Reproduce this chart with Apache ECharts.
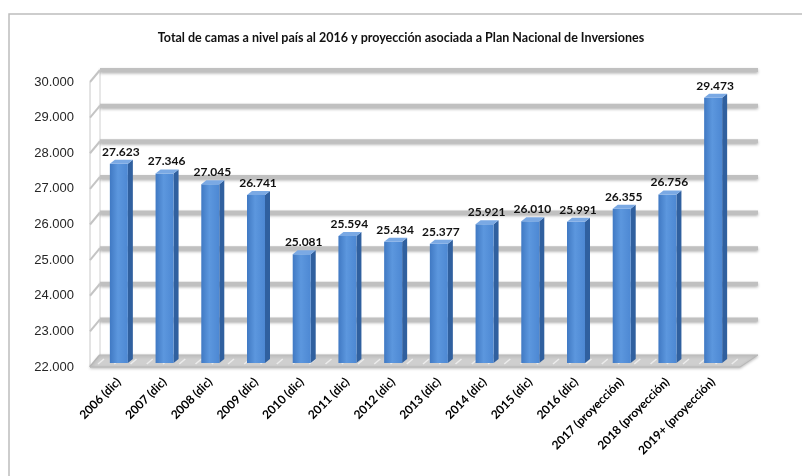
<!DOCTYPE html>
<html>
<head>
<meta charset="utf-8">
<script src="https://cdn.jsdelivr.net/npm/echarts@6/dist/echarts.min.js"></script>
<style>html,body{margin:0;padding:0;background:#fff}#c{width:802px;height:476px}</style>
</head>
<body>
<div id="c"></div>
<script>
const titleText = 'Total de camas a nivel país al 2016 y proyección asociada a Plan Nacional de Inversiones';
const categories = ['2006 (dic)','2007 (dic)','2008 (dic)','2009 (dic)','2010 (dic)','2011 (dic)','2012 (dic)','2013 (dic)','2014 (dic)','2015 (dic)','2016 (dic)','2017 (proyección)','2018 (proyección)','2019+ (proyección)'];
const values = [27623,27346,27045,26741,25081,25594,25434,25377,25921,26010,25991,26355,26756,29473];
const yTicks = [22000,23000,24000,25000,26000,27000,28000,29000,30000];

function fmt(v){ return String(v).replace(/\B(?=(\d{3})+(?!\d))/g,'.'); }

const chart = echarts.init(document.getElementById('c'), null, {renderer:'canvas'});

function renderDecor(params, api){
  const cs = params.coordSys;
  const DX = 10, DY = -12;
  const left = cs.x - 6, right = cs.x + cs.width + 4;
  const yf = api.coord([0, yTicks[0]])[1];
  const yTop = api.coord([0, yTicks[yTicks.length-1]])[1];
  const ch = [];
  ch.push({type:'line', shape:{x1:left,y1:yTop,x2:left,y2:yf}, style:{stroke:'#c8c8c8', lineWidth:1}});
  ch.push({type:'line', shape:{x1:left+DX,y1:yTop+DY,x2:left+DX,y2:yf+DY}, style:{stroke:'#d0d0d0', lineWidth:1}});
  yTicks.forEach(function(t){
    const y = api.coord([0,t])[1];
    if (t > yTicks[0]) {
      ch.push({type:'line', shape:{x1:left+DX,y1:y+DY,x2:right+DX+8,y2:y+DY},
        style:{stroke:'#c0c0c0', lineWidth:4, shadowBlur:3, shadowColor:'rgba(0,0,0,0.3)', shadowOffsetY:1.5}});
    }
    ch.push({type:'line', shape:{x1:left,y1:y,x2:left+DX,y2:y+DY}, style:{stroke:'#c4c4c4', lineWidth:2}});
  });
  ch.push({type:'polygon', shape:{points:[[left,yf],[right,yf],[right+DX+8,yf+DY],[left+DX,yf+DY]]},
    style:{fill:'#cfcfcf', stroke:'#b8b8b8', lineWidth:1, shadowBlur:3, shadowColor:'rgba(0,0,0,0.25)', shadowOffsetY:1}});
  const n = 40;
  for (let k=0;k<n;k++){
    const x = left + 8 + k*(right-left)/n;
    ch.push({type:'line', shape:{x1:x,y1:yf-3,x2:x+6,y2:yf-8}, style:{stroke:'rgba(255,255,255,0.6)', lineWidth:1.5}});
  }
  return {type:'group', children:ch};
}

function renderBar(params, api){
  const i = api.value(0), v = api.value(1);
  const top = api.coord([i, v]);
  const base = api.coord([i, yTicks[0]]);
  const bw = 18, d = 5, dz = -4;
  const x0 = top[0] - bw/2;
  const yT = top[1] - 3, yB = base[1] - 4;
  return {type:'group', children:[
    {type:'polygon', shape:{points:[[x0+bw,yT],[x0+bw+d,yT+dz],[x0+bw+d,yB+dz],[x0+bw,yB]]},
      style:{fill:'#30609f'}},
    {type:'rect', shape:{x:x0,y:yT,width:bw,height:yB-yT},
      style:{fill:new echarts.graphic.LinearGradient(0,0,1,0,[{offset:0,color:'#4079c3'},{offset:0.45,color:'#5c97de'},{offset:1,color:'#4d88d3'}])}},
    {type:'polygon', shape:{points:[[x0,yT],[x0+d,yT+dz],[x0+bw+d,yT+dz],[x0+bw,yT]]},
      style:{fill:'#7aa9e4'}},
    {type:'text', style:{text:fmt(v), x:top[0]+2, y:yT-6, align:'center', verticalAlign:'bottom',
      fontFamily:'Lato', fontWeight:'bold', fontSize:12, fill:'#111'}}
  ]};
}

chart.setOption({
  animation:false,
  backgroundColor:'#fff',
  title:{text:titleText, left:'center', top:26, textStyle:{fontFamily:'Lato', fontWeight:'bold', fontSize:12.5, color:'#111'}},
  graphic:[{type:'rect', shape:{x:9,y:14,width:900,height:500}, style:{fill:'none', stroke:'#bdbdbd', lineWidth:1.5}, silent:true}],
  grid:{left:96, right:66, top:82, bottom:109},
  xAxis:{type:'category', data:categories, axisLine:{show:false}, axisTick:{show:false},
    axisLabel:{interval:0, rotate:45, margin:13, fontFamily:'Lato', fontWeight:'bold', fontSize:12, color:'#000'}},
  yAxis:{type:'value', min:22000, max:30000, interval:1000, axisLine:{show:false}, axisTick:{show:false}, splitLine:{show:false},
    axisLabel:{margin:22, fontFamily:'Liberation Sans', fontSize:13, color:'#262626', formatter:function(v){return fmt(v);}}},
  series:[
    {type:'custom', renderItem:renderDecor, data:[[0,22000]], z:1, silent:true},
    {type:'custom', renderItem:renderBar, data:values.map(function(v,i){return [i,v];}), encode:{x:0,y:1}, z:5}
  ]
});
</script>
</body>
</html>
